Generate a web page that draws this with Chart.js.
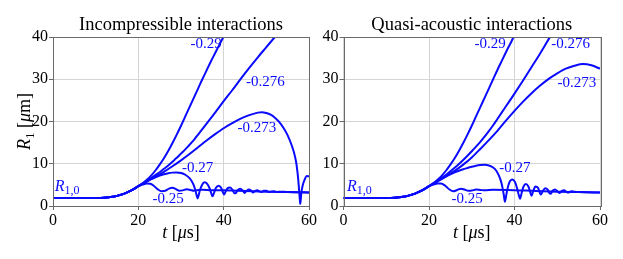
<!DOCTYPE html>
<html>
<head>
<meta charset="utf-8">
<script src="https://cdn.jsdelivr.net/npm/chart.js@4/dist/chart.umd.min.js"></script>
<style>
html,body{margin:0;padding:0;background:#fff;}
#wrap{position:relative;width:623px;height:259px;background:#fff;}
#wrap canvas{position:absolute;left:0;top:0;}
</style>
</head>
<body>
<div id="wrap">
<canvas id="cL" width="623" height="259"></canvas>
<canvas id="cR" width="623" height="259"></canvas>
</div>
<script>
// ---- data (t in µs, R1 in µm) ----
const xTicks = [0, 20, 40, 60];
const yTicks = [0, 10, 20, 30, 40];
const panelTitles = ["Incompressible interactions", "Quasi-acoustic interactions"];
const seriesNames = ["-0.29", "-0.276", "-0.273", "-0.27", "-0.25"];

// common initial part (all cases identical before divergence)
const earlyRise = [[0,1.9],[10,1.9],[12,1.95],[13,2.05],[14,2.2],[15,2.4],[16,2.7],[17,3.05],[18,3.5],[19,4.05],[20,4.7]];

// Incompressible
const inc_029 = [[21,5.4],[22,6.2],[23,7.2],[24,8.4],[25,9.8],[26,11.3],[27,13.0],[28,14.9],[29,16.9],[30,19.0],[31,21.2],[32,23.4],[33,25.6],[34,27.8],[35,30.0],[36,32.1],[37,34.2],[38,36.2],[39,38.2],[40,40.1],[41,42]];
const inc_0276 = [[21,5.3],[22,5.9],[23,6.6],[24,7.3],[25,8.0],[26,8.8],[27,9.6],[28,10.5],[29,11.4],[30,12.4],[31,13.4],[32,14.5],[33,15.6],[34,16.9],[35,18.2],[36,19.5],[37,20.8],[38,22.1],[40,24.8],[42,27.4],[44,30.1],[46,32.7],[48,35.2],[50,37.6],[52,40.0],[54,42.3]];
const inc_0273 = [[21,5.25],[22,5.8],[24,6.9],[26,8.1],[28,9.4],[30,10.8],[32,12.3],[34,13.9],[36,15.5],[38,17.0],[40,18.4],[42,19.6],[44,20.7],[46,21.5],[48,22.1],[49,22.2],[50,22.0],[51,21.6],[52,20.9],[53,19.9],[54,18.5],[55,16.7],[56,14.2],[56.5,12.6],[57,10.3],[57.3,8.0],[57.5,6.0],[57.7,3.5],[57.85,1.5],[57.95,0.5],[58.05,1.3],[58.2,3.0],[58.5,4.8],[59,6.3],[59.5,7.1],[60,7.0]];
const inc_027 = [[21,5.3],[22,5.85],[23,6.35],[24,6.8],[25,7.2],[26,7.5],[27,7.75],[28,7.9],[29,7.95],[30,7.8],[31,7.4],[32,6.6],[32.5,5.9],[33,4.9],[33.4,3.6],[33.7,2.4],[33.9,1.8],[34.1,2.4],[34.4,3.6],[34.9,4.9],[35.5,5.6],[36.1,5.3],[36.7,4.2],[37.1,3.0],[37.4,2.3],[37.7,3.0],[38.2,4.3],[38.8,4.8],[39.4,4.3],[39.8,3.3],[40.1,2.7],[40.4,3.3],[40.9,4.2],[41.5,4.4],[42.1,3.8],[42.5,3.0],[42.8,3.0],[43.3,3.8],[43.9,4.1],[44.5,3.6],[44.9,3.1],[45.3,3.5],[45.9,3.9],[46.5,3.6],[46.9,3.2],[47.3,3.5],[47.9,3.7],[48.5,3.4],[48.9,3.3],[49.4,3.6],[50,3.6],[50.6,3.3],[51.1,3.4],[51.8,3.5],[52.5,3.3],[53.3,3.4],[55,3.3],[60,3.2]];
const inc_025 = [[21,5.05],[22,5.3],[22.8,5.25],[23.6,4.8],[24.5,4.0],[25.5,3.5],[26.3,3.6],[27.2,4.1],[28,4.3],[28.8,4.0],[29.6,3.6],[30.4,3.7],[31.3,3.95],[32.2,3.8],[33,3.6],[34,3.8],[35,3.85],[37,3.75],[40,3.7],[45,3.55],[50,3.4],[55,3.3],[60,3.2]];

// Quasi-acoustic
const qa_029 = [[21,5.4],[22,6.2],[23,7.2],[24,8.4],[25,9.8],[26,11.3],[27,13.0],[28,14.9],[29,16.9],[30,19.0],[31,21.2],[32,23.4],[33,25.6],[34,27.8],[35,30.0],[36,32.2],[37,34.3],[38,36.4],[39,38.4],[40,40.4],[41,42.3]];
const qa_0276 = [[21,5.3],[22,5.95],[23,6.65],[24,7.4],[25,8.2],[26,9.05],[27,9.95],[28,10.9],[29,11.9],[30,12.95],[31,14.05],[32,15.2],[33,16.4],[34,17.7],[35,19.1],[36,20.6],[37,22.1],[38,23.6],[40,26.6],[42,29.7],[44,32.9],[46,36.1],[48,39.5],[50,42.8]];
const qa_0273 = [[21,5.25],[22,5.8],[24,7.0],[26,8.3],[28,9.8],[30,11.5],[32,13.5],[34,15.6],[36,17.8],[38,20.2],[40,22.5],[42,24.7],[44,26.7],[46,28.5],[48,30.1],[50,31.4],[52,32.5],[54,33.2],[56,33.6],[58,33.3],[60,32.5]];
const qa_027 = [[21,5.35],[22,5.95],[23,6.5],[24,7.0],[25,7.5],[26,7.95],[27,8.35],[28,8.7],[29,9.0],[30,9.3],[31,9.55],[32,9.7],[33,9.75],[34,9.6],[35,9.1],[35.7,8.4],[36.3,7.3],[36.8,6.0],[37.2,4.3],[37.5,2.6],[37.75,1.0],[38.0,2.2],[38.3,3.8],[38.8,5.6],[39.5,6.3],[40.1,5.7],[40.6,4.2],[41.0,2.6],[41.3,1.7],[41.6,2.8],[42.1,4.6],[42.7,5.2],[43.3,4.5],[43.7,3.2],[44.0,2.4],[44.3,3.3],[44.9,4.6],[45.5,4.3],[45.9,3.2],[46.2,2.7],[46.6,3.5],[47.2,4.2],[47.8,3.8],[48.2,3.0],[48.5,2.9],[48.9,3.6],[49.5,3.9],[50.1,3.4],[50.5,3.1],[51,3.5],[51.6,3.7],[52.2,3.3],[52.7,3.2],[53.3,3.5],[54,3.4],[55,3.3],[60,3.2]];
const qa_025 = [[21,5.05],[22,5.3],[22.8,5.3],[23.8,4.8],[24.8,3.9],[25.7,3.5],[26.6,3.8],[27.5,4.1],[28.3,3.9],[29.2,3.6],[30,3.65],[31,3.9],[32,3.8],[33,3.7],[35,3.85],[40,3.75],[45,3.55],[50,3.4],[55,3.3],[60,3.2]];

// curve label anchors (data coords: t, R)
const incLabels = [["-0.29",35.9,38.4],["-0.276",49.8,29.4],["-0.273",47.8,18.5],["-0.27",33.9,8.9],["-0.25",27.0,1.6]];
const qaLabels  = [["-0.29",34.3,38.4],["-0.276",53.1,38.4],["-0.273",54.6,29.2],["-0.27",40.1,8.9],["-0.25",28.9,1.6]];
const r10Label = { inc: [3.3, 3.6], qa: [3.7, 3.6] };

// ---- rendering ----
const BLUE = '#0a0aff';
const SERIF = '"Liberation Serif", "Times New Roman", serif';
const FRAME = '#6a6a6a';
const GRID = '#d4d4d4';

function toXY(arr) { return earlyRise.concat(arr).map(p => ({x: p[0], y: p[1]})); }

function drawRich(ctx, parts, x, y) {
  let cx = x;
  for (const [t, f, dy] of parts) {
    ctx.font = f;
    ctx.fillText(t, cx, y + dy);
    cx += ctx.measureText(t).width;
  }
  return cx - x;
}
function richWidth(ctx, parts) {
  let w = 0;
  for (const [t, f] of parts) { ctx.font = f; w += ctx.measureText(t).width; }
  return w;
}

function makeChart(id, series, labels, r10, title, yWidth, pad, showYTitle) {
  const deco = {
    id: 'deco',
    afterDraw(chart) {
      const ctx = chart.ctx, a = chart.chartArea;
      const xs = chart.scales.x, ys = chart.scales.y;
      ctx.save();
      ctx.strokeStyle = FRAME; ctx.lineWidth = 1;
      ctx.strokeRect(Math.round(a.left) + 0.5, Math.round(a.top) + 0.5, Math.round(a.right - a.left), Math.round(a.bottom - a.top));
      ctx.fillStyle = '#000'; ctx.textAlign = 'center'; ctx.textBaseline = 'alphabetic';
      ctx.font = '18.5px ' + SERIF;
      ctx.fillText(title, (a.left + a.right) / 2, 29.5);
      ctx.textAlign = 'left';
      const xp = [['t', 'italic 18px ' + SERIF, 0], [' [', '18px ' + SERIF, 0], ['\u03bc', 'italic 18px ' + SERIF, 0], ['s]', '18px ' + SERIF, 0]];
      const xw = richWidth(ctx, xp);
      drawRich(ctx, xp, (a.left + a.right) / 2 - xw / 2, 238);
      if (showYTitle) {
        const yp = [['R', 'italic 18px ' + SERIF, 0], ['1', '13px ' + SERIF, 4], [' [', '18px ' + SERIF, 0], ['\u03bc', 'italic 18px ' + SERIF, 0], ['m]', '18px ' + SERIF, 0]];
        const yw = richWidth(ctx, yp);
        ctx.save();
        ctx.translate(30, (a.top + a.bottom) / 2);
        ctx.rotate(-Math.PI / 2);
        drawRich(ctx, yp, -yw / 2, 0);
        ctx.restore();
      }
      ctx.fillStyle = BLUE; ctx.textAlign = 'center'; ctx.textBaseline = 'middle';
      ctx.font = '15px ' + SERIF;
      for (const [txt, t, r] of labels) {
        ctx.fillText(txt, xs.getPixelForValue(t), ys.getPixelForValue(r));
      }
      ctx.textAlign = 'left'; ctx.textBaseline = 'alphabetic';
      const rp = [['R', 'italic 16px ' + SERIF, 0], ['1,0', '12px ' + SERIF, 3]];
      const rw = richWidth(ctx, rp);
      drawRich(ctx, rp, xs.getPixelForValue(r10[0]) - rw / 2, ys.getPixelForValue(r10[1]));
      ctx.restore();
    }
  };
  return new Chart(document.getElementById(id), {
    type: 'line',
    data: {
      datasets: series.map((s, i) => ({
        label: seriesNames[i],
        data: toXY(s),
        borderColor: BLUE,
        borderWidth: 2,
        pointRadius: 0,
        fill: false,
        cubicInterpolationMode: 'monotone'
      }))
    },
    options: {
      responsive: false,
      animation: false,
      devicePixelRatio: 1,
      layout: { padding: pad },
      plugins: { legend: { display: false }, tooltip: { enabled: false }, title: { display: false } },
      scales: {
        x: {
          type: 'linear', min: 0, max: 60,
          afterBuildTicks: s => { s.ticks = xTicks.map(v => ({value: v})); },
          ticks: { color: '#000', font: { family: SERIF, size: 16 }, padding: 1, maxRotation: 0 },
          grid: { color: GRID, tickColor: FRAME, tickLength: 4, lineWidth: 1 },
          border: { display: false },
          afterFit: s => { s.height = 53; }
        },
        y: {
          type: 'linear', min: 0, max: 40,
          afterBuildTicks: s => { s.ticks = yTicks.map(v => ({value: v})); },
          ticks: { color: '#000', font: { family: SERIF, size: 16 }, padding: 1 },
          grid: { color: GRID, tickColor: FRAME, tickLength: 4, lineWidth: 1 },
          border: { display: false },
          afterFit: s => { s.width = yWidth; }
        }
      }
    },
    plugins: [deco]
  });
}

makeChart('cL', [inc_029, inc_0276, inc_0273, inc_027, inc_025], incLabels, r10Label.inc, panelTitles[0], 53, {left: 0, right: 314, top: 37, bottom: 0}, true);
makeChart('cR', [qa_029, qa_0276, qa_0273, qa_027, qa_025], qaLabels, r10Label.qa, panelTitles[1], 30, {left: 313.5, right: 23, top: 37, bottom: 0}, false);
</script>
</body>
</html>
